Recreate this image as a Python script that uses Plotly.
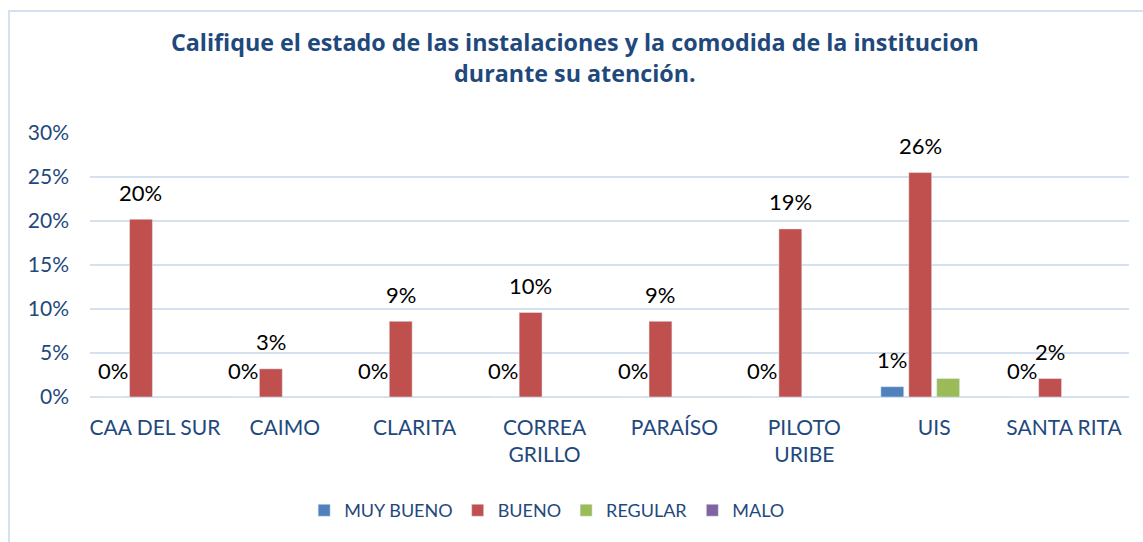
import plotly.graph_objects as go

categories = ["CAA DEL SUR", "CAIMO", "CLARITA", "CORREA<br>GRILLO", "PARAÍSO",
              "PILOTO<br>URIBE", "UIS", "SANTA RITA"]
muy_bueno = [0.0, 0.0, 0.0, 0.0, 0.0, 0.0, 0.0117, 0.0]
bueno = [0.202, 0.032, 0.086, 0.096, 0.086, 0.191, 0.255, 0.021]
regular = [None, None, None, None, None, None, 0.021, None]
malo = [None, None, None, None, None, None, None, None]
y_ticks = [0, 0.05, 0.10, 0.15, 0.20, 0.25, 0.30]

series = [("MUY BUENO", muy_bueno, "#4F81BD", True),
          ("BUENO", bueno, "#C0504D", True),
          ("REGULAR", regular, "#9BBB59", False),
          ("MALO", malo, "#8064A2", False)]

FONT = "Lato"
TXT = "#1F497D"
BARGAP = 0.14

fig = go.Figure()
annotations = []
n = len(series)
slot = (1 - BARGAP) / n
for k, (name, vals, color, labelled) in enumerate(series):
    fig.add_bar(name=name, x=categories, y=vals, marker_color=color)
    if labelled:
        off = -(1 - BARGAP) / 2 + slot * (k + 0.5)
        for i, v in enumerate(vals):
            if v is None:
                continue
            annotations.append(dict(
                x=i + off, y=v, xref="x", yref="y", text=f"{v:.0%}",
                showarrow=False, yanchor="middle", xanchor="center", yshift=27,
                font=dict(family=FONT, size=22, color="black")))

fig.update_layout(
    width=1143, height=542,
    paper_bgcolor="white", plot_bgcolor="white",
    margin=dict(l=90, r=14, t=133, b=145),
    barmode="group", bargap=BARGAP, bargroupgap=0.18,
    title=dict(text="Califique el estado de las instalaciones y la comodida de la institucion<br>durante su atención.",
               x=0.503, xanchor="center", xref="container", y=0.905, yanchor="middle",
               font=dict(family="Open Sans", size=23.3, color=TXT, weight="bold")),
    showlegend=True,
    legend=dict(orientation="h", x=0.44, xanchor="center", y=-0.43, yanchor="middle",
                font=dict(family=FONT, size=18, color=TXT), itemwidth=30,
                traceorder="normal"),
    xaxis=dict(showgrid=False, showline=False, ticks="", ticklabelstandoff=16,
               tickfont=dict(family=FONT, size=21, color=TXT)),
    yaxis=dict(range=[0, 0.30], tickvals=y_ticks, tickformat=".0%",
               showgrid=True, gridcolor="#D6E1F0", gridwidth=2, zeroline=True,
               zerolinecolor="#D6E1F0", zerolinewidth=2, showline=False,
               ticklabelstandoff=20,
               tickfont=dict(family=FONT, size=21, color=TXT)),
    annotations=annotations,
    shapes=[dict(type="rect", xref="paper", yref="paper",
                 x0=-0.078, x1=1.02, y0=-0.6, y1=1.462,
                 line=dict(color="#D6E1F0", width=2), fillcolor="rgba(0,0,0,0)")],
)

fig.write_html("out.html", config={"displayModeBar": False},
               post_script="document.body.style.margin='0';")
